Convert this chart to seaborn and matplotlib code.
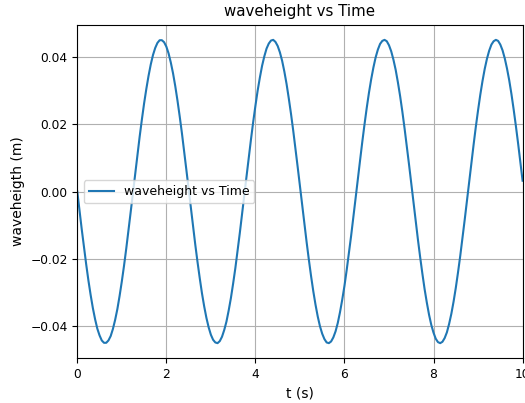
import numpy as np
import pandas as pd
import matplotlib
matplotlib.use("Agg")
import matplotlib.pyplot as plt
import seaborn as sns

# sampling times (s), 0.05 s step over 10 s
time_s = np.round(np.arange(201) * 0.05, 2)

# measured water surface elevation (m)
waveheight_m = [
    -0.0000, -0.0056, -0.0112, -0.0165, -0.0216, -0.0264, -0.0307, -0.0346, -0.0379, -0.0407,
    -0.0427, -0.0442, -0.0449, -0.0449, -0.0442, -0.0429, -0.0408, -0.0381, -0.0349, -0.0310,
    -0.0267, -0.0220, -0.0169, -0.0115, -0.0060, -0.0004, +0.0052, +0.0108, +0.0162, +0.0213,
    +0.0261, +0.0304, +0.0343, +0.0377, +0.0405, +0.0426, +0.0441, +0.0449, +0.0449, +0.0443,
    +0.0430, +0.0410, +0.0383, +0.0351, +0.0313, +0.0270, +0.0223, +0.0173, +0.0119, +0.0064,
    +0.0008, -0.0048, -0.0104, -0.0158, -0.0209, -0.0257, -0.0302, -0.0341, -0.0375, -0.0403,
    -0.0425, -0.0440, -0.0448, -0.0450, -0.0444, -0.0431, -0.0411, -0.0386, -0.0353, -0.0316,
    -0.0273, -0.0227, -0.0176, -0.0123, -0.0068, -0.0012, +0.0044, +0.0100, +0.0154, +0.0206,
    +0.0254, +0.0299, +0.0338, +0.0373, +0.0401, +0.0424, +0.0439, +0.0448, +0.0450, +0.0444,
    +0.0432, +0.0413, +0.0388, +0.0356, +0.0319, +0.0276, +0.0230, +0.0180, +0.0127, +0.0072,
    +0.0016, -0.0041, -0.0096, -0.0150, -0.0202, -0.0251, -0.0296, -0.0336, -0.0371, -0.0400,
    -0.0422, -0.0438, -0.0448, -0.0450, -0.0445, -0.0433, -0.0415, -0.0390, -0.0358, -0.0321,
    -0.0280, -0.0233, -0.0183, -0.0131, -0.0076, -0.0020, +0.0037, +0.0092, +0.0147, +0.0199,
    +0.0248, +0.0293, +0.0333, +0.0368, +0.0398, +0.0421, +0.0438, +0.0447, +0.0450, +0.0446,
    +0.0434, +0.0416, +0.0391, +0.0361, +0.0324, +0.0283, +0.0237, +0.0187, +0.0134, +0.0080,
    +0.0024, -0.0033, -0.0089, -0.0143, -0.0195, -0.0244, -0.0290, -0.0330, -0.0366, -0.0396,
    -0.0419, -0.0437, -0.0447, -0.0450, -0.0446, -0.0435, -0.0418, -0.0393, -0.0363, -0.0327,
    -0.0286, -0.0240, -0.0191, -0.0138, -0.0084, -0.0028, +0.0029, +0.0085, +0.0139, +0.0192,
    +0.0241, +0.0287, +0.0328, +0.0364, +0.0394, +0.0418, +0.0436, +0.0446, +0.0450, +0.0447,
    +0.0436, +0.0419, +0.0395, +0.0365, +0.0330, +0.0289, +0.0243, +0.0194, +0.0142, +0.0087,
    +0.0032,
]

series_label = "waveheight vs Time"
y_ticks = [-0.04, -0.02, 0.00, 0.02, 0.04]
x_ticks = [0, 2, 4, 6, 8, 10]

df = pd.DataFrame({"t": time_s, "eta": waveheight_m})

plt.rcParams["font.family"] = ["DejaVu Sans"]
plt.rcParams["axes.formatter.useoffset"] = False
fig = plt.figure(figsize=(5.25, 4.03), dpi=100)
ax = fig.add_axes([0.1472, 0.1109, 0.8482, 0.8278])

sns.lineplot(data=df, x="t", y="eta", ax=ax, color="#1f77b4",
             linewidth=1.5, label=series_label)

ax.set_xlim(0, 10)
ax.set_xticks(x_ticks)
ax.set_yticks(y_ticks)
ax.grid(True, color="#b0b0b0", linewidth=0.8)
ax.set_axisbelow(True)

ax.set_title("waveheight vs Time", fontsize=10.8)
ax.set_xlabel("t (s)", fontsize=10)
ax.set_ylabel("waveheigth (m)", fontsize=10)
ax.tick_params(labelsize=8.8)
ax.legend(loc="center left", fontsize=9)

fig.savefig("out.png", dpi=100)
